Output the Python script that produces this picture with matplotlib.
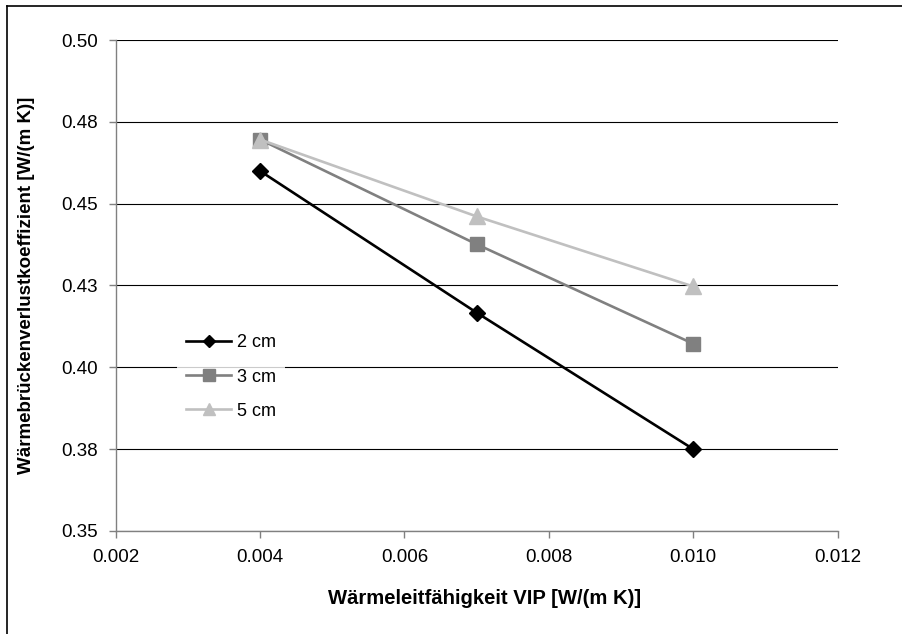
import matplotlib
matplotlib.use("Agg")
import matplotlib.pyplot as plt
from matplotlib.lines import Line2D

plt.rcParams['font.family'] = ['Liberation Sans', 'DejaVu Sans']

x_vals = [0.004, 0.007, 0.010]
series_names = ["2 cm", "3 cm", "5 cm"]
y_2cm = [0.460, 0.4167, 0.375]
y_3cm = [0.4696, 0.4376, 0.4072]
y_5cm = [0.4696, 0.4461, 0.4247]
x_ticks = [0.002, 0.004, 0.006, 0.008, 0.010, 0.012]
x_ticklabels = ["0.002", "0.004", "0.006", "0.008", "0.010", "0.012"]
y_ticks = [0.35, 0.375, 0.40, 0.425, 0.45, 0.475, 0.50]
y_ticklabels = ["0.35", "0.38", "0.40", "0.43", "0.45", "0.48", "0.50"]
x_label = "Wärmeleitfähigkeit VIP [W/(m K)]"
y_label = "Wärmebrückenverlustkoeffizient [W/(m K)]"

fig = plt.figure(figsize=(9.03, 6.34), dpi=100)
ax = fig.add_axes([0.128, 0.1625, 0.7997, 0.7744])

styles = [
    dict(color="#000000", marker="D", ms=8),
    dict(color="#808080", marker="s", ms=10.5),
    dict(color="#C0C0C0", marker="^", ms=11),
]
for ys, name, st in zip([y_2cm, y_3cm, y_5cm], series_names, styles):
    ax.plot(x_vals, ys, color=st["color"], lw=1.9, marker=st["marker"],
            ms=st["ms"], mfc=st["color"], mec=st["color"], label=name, zorder=3)

ax.set_xlim(0.002, 0.012)
ax.set_ylim(0.35, 0.50)
ax.set_xticks(x_ticks)
ax.set_xticklabels(x_ticklabels)
ax.set_yticks(y_ticks)
ax.set_yticklabels(y_ticklabels)
ax.yaxis.grid(True, color="#000000", lw=0.8)
ax.set_axisbelow(True)
for s in ["top", "right"]:
    ax.spines[s].set_visible(False)
for s in ["left", "bottom"]:
    ax.spines[s].set_color("#808080")
    ax.spines[s].set_linewidth(1.0)
ax.tick_params(axis="both", colors="#808080", labelcolor="#000000",
               labelsize=13.5, length=5, width=1.0)
ax.tick_params(axis="x", pad=8)
ax.tick_params(axis="y", pad=8)

fig.text(485 / 903, 1 - 598 / 634, x_label, ha="center", va="center",
         fontsize=14.6, fontweight="bold")
fig.text(27 / 903, 1 - 285 / 634, y_label, ha="center", va="center",
         rotation=90, fontsize=13.5, fontweight="bold")

leg = ax.legend(loc="upper left", bbox_to_anchor=(0.073, 0.437), frameon=True,
                fontsize=13, handlelength=2.5, handletextpad=0.3,
                labelspacing=0.95, numpoints=1, markerscale=0.8,
                borderpad=0.5, fancybox=False)
leg.get_frame().set_facecolor("white")
leg.get_frame().set_edgecolor("white")
leg.get_frame().set_linewidth(0)

fig.add_artist(Line2D([7 / 903, 7 / 903], [0, 1 - 6 / 634], transform=fig.transFigure,
                      color="black", lw=1.2))
fig.add_artist(Line2D([7 / 903, 1], [1 - 6 / 634, 1 - 6 / 634], transform=fig.transFigure,
                      color="black", lw=1.2))

fig.savefig("out.png", dpi=100)
